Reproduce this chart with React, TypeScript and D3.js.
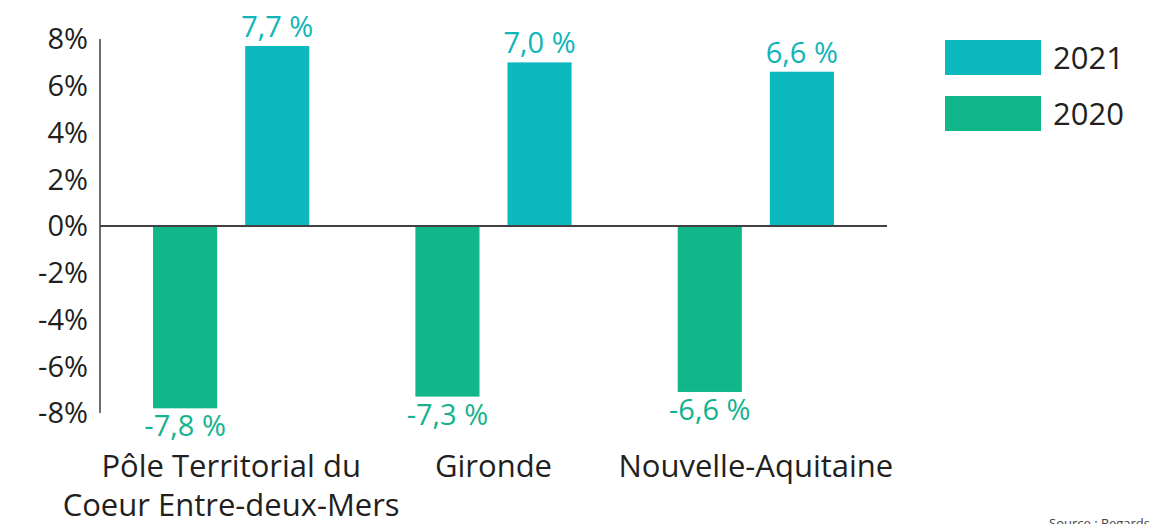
import React from 'react'
import * as d3 from 'd3'

// data
const categories = ['Pôle Territorial du\nCoeur Entre-deux-Mers', 'Gironde', 'Nouvelle-Aquitaine']
const years = ['2020', '2021']
// bar lengths as drawn in the picture
const values2020 = [-7.8, -7.3, -7.1]
const values2021 = [7.7, 7.0, 6.6]
// value labels as printed in the picture
const labels2020 = ['-7,8 %', '-7,3 %', '-6,6 %']
const labels2021 = ['7,7 %', '7,0 %', '6,6 %']
const yTicks = [8, 6, 4, 2, 0, -2, -4, -6, -8]
const legendYears = ['2021', '2020']

const colors: Record<string, string> = { '2021': '#0bb9bf', '2020': '#12b68b' }
const labelColors: Record<string, string> = { '2021': '#10b5b9', '2020': '#14b38d' }

const font = '"Open Sans", sans-serif'

const width = 1156
const height = 524

const App = () => {
  const x0 = d3.scaleBand<string>()
    .domain(categories)
    .range([100, 887])
  const x1 = d3.scaleBand<string>()
    .domain(years)
    .range([0, x0.bandwidth()])
    .paddingInner(0.304)
    .paddingOuter(0.576)
  const y = d3.scaleLinear()
    .domain([-8, 8])
    .range([413, 39])

  const series = years.map((yr) => ({
    year: yr,
    values: yr === '2020' ? values2020 : values2021,
    labels: yr === '2020' ? labels2020 : labels2021
  }))

  return (
    <svg width={width} height={height} style={{ position: 'absolute', left: 0, top: 0, background: '#fff' }}>
      {/* y axis ticks */}
      {yTicks.map((t) => (
        <text key={t} x={88} y={y(t)} dy="0.36em" textAnchor="end" fontFamily={font} fontSize={29} fill="#231f20">
          {t}%
        </text>
      ))}
      <line x1={100} x2={100} y1={y(8)} y2={y(-8)} stroke="#6d6e71" strokeWidth={2} />

      {/* bars */}
      {series.map((s) => (
        <g key={s.year}>
          {s.values.map((v, i) => {
            const bx = (x0(categories[i]) as number) + (x1(s.year) as number)
            const top = Math.min(y(v), y(0))
            const h = Math.abs(y(v) - y(0))
            return (
              <g key={i}>
                <rect x={bx} y={top} width={x1.bandwidth()} height={h} fill={colors[s.year]} />
                <text
                  x={bx + x1.bandwidth() / 2}
                  y={v >= 0 ? y(v) - 9 : y(v) + 28}
                  textAnchor="middle"
                  fontFamily={font}
                  fontSize={29}
                  fill={labelColors[s.year]}
                >
                  {s.labels[i]}
                </text>
              </g>
            )
          })}
        </g>
      ))}

      {/* zero line */}
      <line x1={100} x2={887} y1={y(0)} y2={y(0)} stroke="#414042" strokeWidth={2} />

      {/* category labels */}
      {categories.map((c) => (
        <text key={c} textAnchor="middle" fontFamily={font} fontSize={31} fill="#231f20">
          {c.split('\n').map((line, j) => (
            <tspan key={j} x={(x0(c) as number) + x0.bandwidth() / 2} y={477 + j * 39}>
              {line}
            </tspan>
          ))}
        </text>
      ))}

      {/* legend */}
      {legendYears.map((yr, i) => (
        <g key={yr} transform={`translate(945, ${40 + i * 56})`}>
          <rect width={96} height={35} fill={colors[yr]} />
          <text x={108} y={17.5} dy="0.36em" fontFamily={font} fontSize={31} fill="#231f20">
            {yr}
          </text>
        </g>
      ))}

      <text x={1049} y={528} fontFamily={font} fontSize={13} fill="#414042">
        Source : Regards
      </text>
    </svg>
  )
}

export default App
